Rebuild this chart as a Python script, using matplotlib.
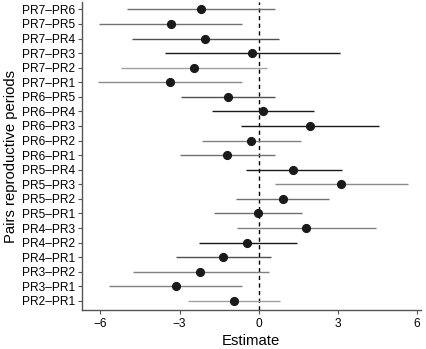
import numpy as np
import matplotlib.pyplot as plt

plt.rcParams["font.family"] = ["Liberation Sans", "DejaVu Sans"]

# rows listed bottom -> top
pairs = ["PR2–PR1", "PR3–PR1", "PR3–PR2", "PR4–PR1", "PR4–PR2", "PR4–PR3",
         "PR5–PR1", "PR5–PR2", "PR5–PR3", "PR5–PR4", "PR6–PR1", "PR6–PR2",
         "PR6–PR3", "PR6–PR4", "PR6–PR5", "PR7–PR1", "PR7–PR2", "PR7–PR3",
         "PR7–PR4", "PR7–PR5", "PR7–PR6"]
estimate = [-0.93, -3.13, -2.22, -1.34, -0.43, 1.80,
            -0.01, 0.91, 3.13, 1.32, -1.20, -0.28,
            1.95, 0.15, -1.17, -3.38, -2.46, -0.25,
            -2.02, -3.34, -2.19]
lower = [-2.67, -5.67, -4.78, -3.15, -2.27, -0.82,
         -1.69, -0.84, 0.62, -0.49, -2.99, -2.14,
         -0.66, -1.77, -2.95, -6.09, -5.22, -3.54,
         -4.81, -6.05, -5.00]
upper = [0.82, -0.62, 0.38, 0.47, 1.44, 4.45,
         1.66, 2.67, 5.67, 3.15, 0.63, 1.61,
         4.57, 2.09, 0.64, -0.64, 0.33, 3.09,
         0.78, -0.63, 0.64]
bar_grey = ["#a0a0a0", "#808080", "#808080", "#505050", "#1a1a1a", "#808080",
            "#707070", "#707070", "#8a8a8a", "#1a1a1a", "#707070", "#808080",
            "#1a1a1a", "#1a1a1a", "#505050", "#8a8a8a", "#a0a0a0", "#1a1a1a",
            "#505050", "#707070", "#707070"]

fig = plt.figure(figsize=(4.26, 3.49), dpi=100)
ax = fig.add_axes([0.1925, 0.112, 0.795, 0.882])

y = np.arange(len(pairs))
for i in range(len(pairs)):
    ax.plot([lower[i], upper[i]], [y[i], y[i]], color=bar_grey[i], lw=1.0,
            solid_capstyle="butt", zorder=2)
ax.plot(estimate, y, "o", color="#1a1a1a", ms=5.6, zorder=3)
ax.axvline(0, color="black", ls=(0, (3, 2.5)), lw=1.0, zorder=1)

ax.set_xlim(-6.7, 6.15)
ax.set_ylim(-0.62, 20.5)
ax.set_xticks([-6, -3, 0, 3, 6])
ax.set_yticks(y)
ax.set_yticklabels(pairs)
ax.tick_params(axis="both", labelsize=8.6, length=3, width=0.8,
               color="#555555", pad=2)
ax.tick_params(axis="x", pad=3)
for s in ("top", "right"):
    ax.spines[s].set_visible(False)
for s in ("left", "bottom"):
    ax.spines[s].set_color("#555555")
    ax.spines[s].set_linewidth(1.0)

ax.set_xlabel("Estimate", fontsize=10.7, labelpad=3)
ax.set_ylabel("Pairs reproductive periods", fontsize=10.7)
ax.yaxis.set_label_coords(-0.19, 0.5)

fig.savefig("out.png", dpi=100)
